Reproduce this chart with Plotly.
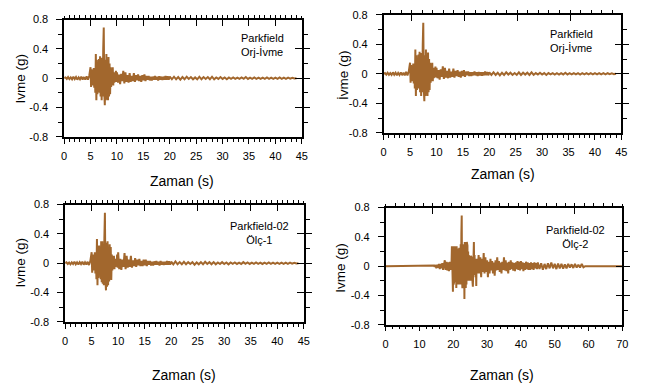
import plotly.graph_objects as go

# ---------------- data ----------------
# Parkfield Orj-İvme  (segments: start time, time step, values)
orj_starts = [0.0, 5.0, 10.0, 20.0]
orj_dts = [0.25, 0.1, 0.2, 0.4]
orj_a0 = [0.0, 0.01, -0.01, 0.015, -0.012, 0.01, -0.015, 0.02, -0.012, 0.015,
          -0.02, 0.012, -0.015, 0.02, -0.018, 0.015, -0.02, 0.025, -0.02, 0.03]
orj_a1 = [0.15, -0.12, 0.12, -0.08, 0.1, -0.1, 0.14, -0.13, 0.12, -0.2,
          0.33, -0.3, 0.25, -0.22, 0.2, -0.18, 0.26, -0.2, 0.3, -0.25,
          0.28, -0.3, 0.22, -0.25, 0.4, 0.69, -0.2, -0.37, 0.25, -0.3,
          0.33, -0.28, 0.25, -0.3, 0.29, -0.25, 0.2, -0.22, 0.15, -0.12,
          0.1, -0.08, 0.15, -0.1, 0.08, -0.06, 0.05, -0.05, 0.1, -0.05]
orj_a2 = [0.08, -0.06, 0.05, -0.08, 0.06, -0.04, 0.1, -0.07, 0.08, -0.05,
          0.04, -0.06, 0.07, -0.05, 0.03, -0.04, 0.07, -0.05, 0.04, -0.03,
          0.05, -0.04, 0.03, -0.05, 0.04, -0.03, 0.05, -0.04, 0.03, -0.02,
          0.03, -0.03, 0.02, -0.03, 0.02, -0.02, 0.03, -0.02, 0.02, -0.03,
          0.025, -0.02, 0.02, -0.025, 0.02, -0.02, 0.03, -0.02, 0.025, -0.02]
orj_a3 = [0.02, -0.015, 0.02, -0.015, 0.015, -0.02, 0.015, -0.015, 0.02, -0.01,
          0.015, -0.015, 0.01, -0.015, 0.02, -0.015, 0.015, -0.01, 0.015, -0.015,
          0.02, -0.015, 0.01, -0.01, 0.015, -0.01, 0.01, -0.015, 0.01, -0.008,
          0.01, -0.01, 0.008, -0.01, 0.01, -0.008, 0.015, -0.01, 0.008, -0.008,
          0.01, -0.008, 0.008, -0.01, 0.008, -0.008, 0.01, -0.008, 0.008, -0.008,
          0.008, -0.008, 0.01, -0.008, 0.008, -0.008, 0.008, -0.006, 0.006, -0.004, 0.0]

# Parkfield-02 Ölç-1
olc1_starts = [0.0, 5.0, 10.0, 20.0]
olc1_dts = [0.25, 0.1, 0.2, 0.4]
olc1_a0 = [0.0, 0.012, -0.01, 0.01, -0.015, 0.012, -0.01, 0.02, -0.015, 0.012,
           -0.018, 0.015, -0.012, 0.02, -0.02, 0.012, -0.018, 0.02, -0.025, 0.03]
olc1_a1 = [0.15, -0.13, 0.12, -0.1, 0.1, -0.08, 0.15, -0.14, 0.1, -0.22,
           0.33, -0.3, 0.22, -0.2, 0.24, -0.15, 0.22, -0.22, 0.3, -0.26,
           0.3, -0.28, 0.2, -0.3, 0.35, 0.69, -0.22, -0.37, 0.28, -0.32,
           0.3, -0.3, 0.22, -0.25, 0.26, -0.22, 0.22, -0.23, 0.12, -0.1,
           0.08, -0.06, 0.1, -0.08, 0.06, -0.05, 0.06, -0.04, 0.12, -0.06]
olc1_a2 = [0.15, -0.08, 0.06, -0.09, 0.05, -0.05, 0.14, -0.08, 0.1, -0.06,
           0.05, -0.05, 0.1, -0.06, 0.04, -0.04, 0.07, -0.05, 0.05, -0.03,
           0.06, -0.04, 0.03, -0.04, 0.05, -0.03, 0.05, -0.04, 0.03, -0.02,
           0.03, -0.03, 0.02, -0.03, 0.025, -0.02, 0.03, -0.02, 0.02, -0.03,
           0.03, -0.02, 0.02, -0.025, 0.02, -0.02, 0.03, -0.02, 0.025, -0.02]
olc1_a3 = [0.02, -0.015, 0.025, -0.015, 0.015, -0.015, 0.02, -0.015, 0.015, -0.01,
           0.015, -0.02, 0.01, -0.015, 0.015, -0.015, 0.02, -0.01, 0.015, -0.015,
           0.015, -0.015, 0.01, -0.01, 0.015, -0.01, 0.01, -0.015, 0.01, -0.008,
           0.01, -0.01, 0.008, -0.01, 0.015, -0.008, 0.01, -0.01, 0.008, -0.008,
           0.01, -0.008, 0.008, -0.01, 0.008, -0.008, 0.01, -0.008, 0.008, -0.008,
           0.008, -0.008, 0.008, -0.008, 0.008, -0.008, 0.008, -0.006, 0.006, -0.004, 0.0]

# Parkfield-02 Ölç-2
olc2_starts = [0.0, 14.0, 19.5, 27.5, 45.0, 59.5]
olc2_dts = [1.0, 0.25, 0.1, 0.25, 0.5, 0.5]
olc2_a0 = [0.0, 0.0, 0.0, 0.0, 0.0, 0.0, 0.0, 0.0, 0.0, 0.0, 0.0, 0.0, 0.0, 0.0]
olc2_a1 = [0.0, 0.01, -0.01, 0.015, -0.03, 0.02, -0.02, 0.03, -0.04, 0.03,
           -0.03, 0.04, -0.05, 0.05, 0.08, -0.05, 0.06, -0.06, 0.05, -0.07,
           0.06, -0.05]
olc2_a2 = [0.05, 0.27, -0.2, 0.25, -0.35, 0.27, -0.25, 0.26, -0.2, 0.27,
           -0.15, 0.2, -0.22, 0.25, -0.3, 0.27, -0.2, 0.22, -0.18, 0.24,
           -0.25, 0.2, -0.22, 0.25, -0.2, 0.22, -0.25, 0.3, -0.2, 0.45,
           0.69, -0.15, -0.3, 0.3, -0.25, 0.25, -0.2, 0.2, -0.45, 0.33,
           -0.25, 0.33, -0.3, 0.3, -0.25, 0.33, -0.22, 0.28, -0.18, 0.2,
           -0.2, 0.15, -0.12, 0.1, -0.15, 0.12, -0.2, 0.14, -0.1, 0.12,
           -0.18, 0.1, -0.22, -0.28, 0.1, 0.2, 0.33, -0.1, 0.15, -0.12,
           0.1, -0.15, 0.08, -0.27, 0.1, -0.2, 0.08, -0.1, 0.06, -0.08]
olc2_a3 = [0.15, -0.1, 0.12, -0.15, 0.1, -0.08, 0.18, -0.1, 0.12, -0.08,
           0.08, -0.15, 0.06, -0.1, 0.1, -0.06, 0.07, -0.1, 0.05, -0.13,
           0.08, -0.06, 0.12, -0.05, 0.07, -0.08, 0.05, -0.1, 0.06, -0.05,
           0.12, -0.06, 0.08, -0.07, 0.05, -0.1, 0.06, -0.05, 0.08, -0.04,
           0.05, -0.06, 0.04, -0.07, 0.05, -0.04, 0.07, -0.05, 0.06, -0.06,
           0.07, -0.04, 0.05, -0.07, 0.04, -0.05, 0.06, -0.04, 0.05, -0.05,
           0.04, -0.05, 0.05, -0.04, 0.04, -0.05, 0.05, -0.03, 0.04, -0.04]
olc2_a4 = [0.05, -0.04, 0.04, -0.05, 0.03, -0.04, 0.04, -0.03, 0.05, -0.03,
           0.03, -0.04, 0.035, -0.03, 0.03, -0.035, 0.025, -0.03, 0.03, -0.02,
           0.025, -0.025, 0.03, -0.02, 0.02, -0.02, 0.03, -0.015, 0.0]
olc2_a5 = [0.0, 0.0, 0.0, 0.0, 0.0, 0.0, 0.0, 0.0, 0.0, 0.0, 0.0,
           0.0, 0.0, 0.0, 0.0, 0.0, 0.0, 0.0, 0.0, 0.0, 0.0, 0.0]

panel_labels = ["Parkfield<br>Orj-İvme", "Parkfield<br>Orj-İvme",
                "Parkfield-02<br>Ölç-1", "Parkfield-02<br>Ölç-2"]
y_titles = ["Ivme (g)", "İvme (g)", "Ivme (g)", "Ivme (g)"]
x_title = "Zaman (s)"


def build(starts, dts, segs):
    t, a = [], []
    for s, d, vals in zip(starts, dts, segs):
        for i, v in enumerate(vals):
            t.append(round(s + d * i, 4))
            a.append(v)
    return t, a


orj_t, orj_a = build(orj_starts, orj_dts, [orj_a0, orj_a1, orj_a2, orj_a3])
olc1_t, olc1_a = build(olc1_starts, olc1_dts, [olc1_a0, olc1_a1, olc1_a2, olc1_a3])
olc2_t, olc2_a = build(olc2_starts, olc2_dts,
                       [olc2_a0, olc2_a1, olc2_a2, olc2_a3, olc2_a4, olc2_a5])

series = [(orj_t, orj_a), (orj_t, orj_a), (olc1_t, olc1_a), (olc2_t, olc2_a)]

# ---------------- layout ----------------
W, H = 651, 385
# plot boxes in pixels: left, right, top, bottom
boxes = [(62, 303, 14, 135), (386, 627, 9, 131), (63, 305, 205, 326), (388, 628, 208, 329)]
xranges = [[0, 45], [0, 45], [0, 45], [0, 70]]
xdt = [5, 5, 5, 10]
xminor = [1, 1, 1, 2]
top_tick0 = [0, 5.3, 0, 0]
top_dt = [5, 10, 5, 14]
top_minor_t0 = [0, 1.3, 0, 0]
top_minor = [1, 2, 1, 2.8]
xtitle_pos = [(182, 181), (507, 173), (184, 381), (506, 381)]
ytitle_pos = [(18, 75), (346, 71), (18, 265), (342, 270)]
label_pos = [(239, 40.5, "left"), (553, 36, "left"), (260, 234, "center"), (581, 238.5, "center")]

FONT = "Liberation Sans, Arial, sans-serif"
LINE_COLOR = "rgb(162,103,45)"
AX = "black"


def px(x):
    return x / W


def py(y):
    return 1 - y / H


fig = go.Figure()
layout = dict(width=W, height=H, margin=dict(l=0, r=0, t=0, b=0),
              paper_bgcolor="white", plot_bgcolor="white",
              font=dict(family=FONT, color="black", size=11),
              showlegend=False)
annotations = []

for p in range(4):
    l, r, t, b = boxes[p]
    xi, yi = 3 * p + 1, 3 * p + 1
    xs = lambda k: "" if k == 1 else str(k)
    xm, xa, xb = xs(xi), xs(xi + 1), xs(xi + 2)
    ym, ya, yb = xs(yi), xs(yi + 1), xs(yi + 2)

    common_x = dict(range=xranges[p], showgrid=False, zeroline=False, fixedrange=True)
    common_y = dict(range=[-0.8, 0.8], showgrid=False, zeroline=False, fixedrange=True)

    layout["xaxis" + xm] = dict(
        domain=[px(l), px(r)], anchor="y" + ym, **common_x,
        showline=True, linecolor=AX, linewidth=1.5,
        ticks="outside", ticklen=5, tickwidth=1.2, tickcolor=AX,
        tick0=0, dtick=xdt[p], tickfont=dict(size=11),
        ticklabelstandoff=3,
        minor=dict(ticks="outside", ticklen=3, tickwidth=1.2, tickcolor=AX, dtick=xminor[p], tick0=0))
    layout["xaxis" + xa] = dict(
        overlaying="x" + xm, anchor="y" + ym, side="top", **common_x,
        showline=True, linecolor=AX, linewidth=1.5,
        ticks="inside", ticklen=7, tickwidth=1.2, tickcolor=AX,
        tick0=top_tick0[p], dtick=top_dt[p], showticklabels=False,
        minor=dict(ticks="outside", ticklen=3, tickwidth=1.2, tickcolor=AX,
                   dtick=top_minor[p], tick0=top_minor_t0[p]))
    layout["xaxis" + xb] = dict(
        overlaying="x" + xm, anchor="y" + ym, side="top", **common_x,
        showline=False, ticks="outside", ticklen=3, tickwidth=1.2, tickcolor=AX,
        tick0=top_tick0[p], dtick=top_dt[p], showticklabels=False)

    layout["yaxis" + ym] = dict(
        domain=[py(b), py(t)], anchor="x" + xm, **common_y,
        showline=True, linecolor=AX, linewidth=1.5,
        ticks="outside", ticklen=6, tickwidth=1.2, tickcolor=AX,
        tickvals=[-0.8, -0.4, 0, 0.4, 0.8], ticktext=["-0.8", "-0.4", "0", "0.4", "0.8"],
        tickfont=dict(size=11), ticklabelstandoff=6,
        minor=dict(ticks="outside", ticklen=4, tickwidth=1.2, tickcolor=AX,
                   tickvals=[-0.6, -0.2, 0.2, 0.6]))
    layout["yaxis" + ya] = dict(
        overlaying="y" + ym, anchor="x" + xm, side="right", **common_y,
        showline=True, linecolor=AX, linewidth=1.5,
        ticks="inside", ticklen=7, tickwidth=1.2, tickcolor=AX,
        tickvals=[-0.4, 0, 0.4], showticklabels=False,
        minor=dict(ticks="outside", ticklen=4, tickwidth=1.2, tickcolor=AX,
                   tickvals=[-0.6, -0.2, 0.2, 0.6]))
    layout["yaxis" + yb] = dict(
        overlaying="y" + ym, anchor="x" + xm, side="right", **common_y,
        showline=False, ticks="outside", ticklen=7, tickwidth=1.2, tickcolor=AX,
        tickvals=[-0.4, 0, 0.4], showticklabels=False)

    tx, ta = series[p]
    # invisible companions so the frame axes (top / right) are drawn
    for xr, yr in [(xa, ym), (xb, ym), (xm, ya), (xm, yb)]:
        fig.add_trace(go.Scatter(x=tx, y=ta, mode="lines", xaxis="x" + xr, yaxis="y" + yr,
                                 opacity=0, line=dict(width=0), hoverinfo="skip"))
    fig.add_trace(go.Scatter(x=tx, y=ta, mode="lines", xaxis="x" + xm, yaxis="y" + ym,
                             line=dict(color=LINE_COLOR, width=2.0), hoverinfo="skip"))

    ax_, ay_ = xtitle_pos[p]
    annotations.append(dict(text=x_title, x=px(ax_), y=py(ay_), xref="paper", yref="paper",
                            xanchor="center", yanchor="middle", showarrow=False,
                            font=dict(size=14)))
    bx_, by_ = ytitle_pos[p]
    annotations.append(dict(text=y_titles[p], x=px(bx_), y=py(by_), xref="paper", yref="paper",
                            xanchor="center", yanchor="middle", showarrow=False, textangle=-90,
                            font=dict(size=13.5)))
    lx, ly, al = label_pos[p]
    annotations.append(dict(text=panel_labels[p], x=px(lx), y=py(ly), xref="paper", yref="paper",
                            xanchor=al, yanchor="middle", align=al, showarrow=False,
                            font=dict(size=11)))

layout["annotations"] = annotations
fig.update_layout(**layout)
fig.write_html("out.html")
